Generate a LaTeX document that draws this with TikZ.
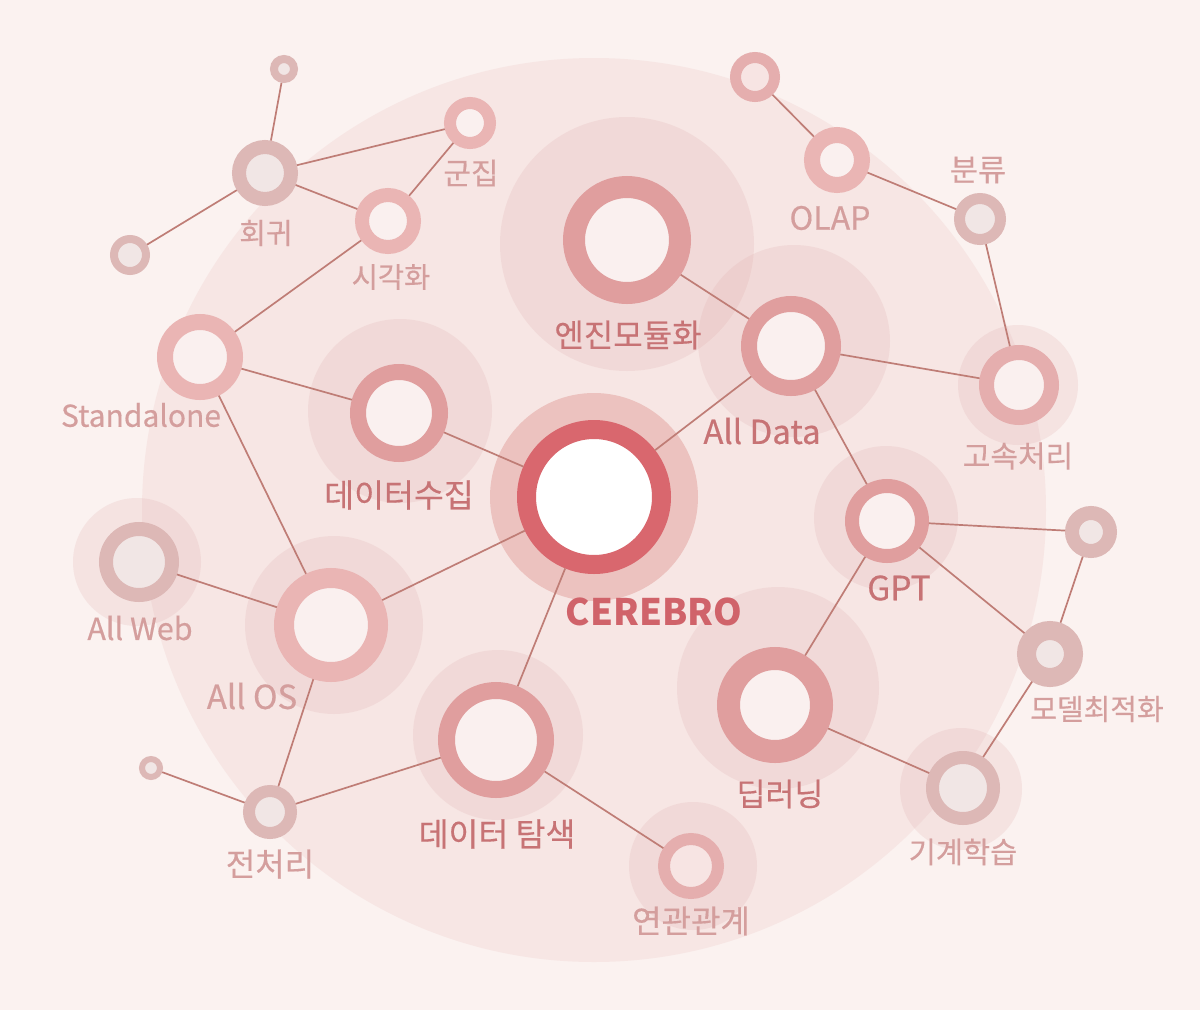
\documentclass[tikz,border=0pt]{standalone}
\usepackage{fontspec}
\setmainfont{Noto Sans CJK KR}
\newfontfamily\labfont[FakeBold=0.4]{Noto Sans CJK KR}
\definecolor{bgc}{HTML}{FBF2F0}
\definecolor{bigc}{HTML}{F7E6E4}
\definecolor{haloc}{HTML}{DDA9A8}
\definecolor{cerhalo}{HTML}{ECC2BF}
\definecolor{cerring}{HTML}{D9676E}
\definecolor{mainring}{HTML}{E09E9E}
\definecolor{lightring}{HTML}{EAB5B4}
\definecolor{midring}{HTML}{E5AEAE}
\definecolor{grayring}{HTML}{DDB8B6}
\definecolor{lightfill}{HTML}{FAF0EF}
\definecolor{grayfill}{HTML}{F1E6E5}
\definecolor{pinkfill}{HTML}{F7E4E3}
\definecolor{edgec}{HTML}{BF7D76}
\definecolor{darklab}{HTML}{C77375}
\definecolor{lightlab}{HTML}{D49E9D}
\definecolor{cerlab}{HTML}{D0636A}
\tikzset{
  ringnode/.style n args={4}{circle, inner sep=0pt, minimum size={#1+#2}, line width={#1-#2}, draw=#3, fill=#4},
  halo/.style={fill=haloc, fill opacity=0.2, draw=none},
  link/.style={draw=edgec, line width=1.7pt},
  mainlab/.style={text=darklab, font=\labfont\fontsize{#1}{#1}\selectfont, inner sep=0pt},
  sublab/.style={text=lightlab, font=\labfont\fontsize{#1}{#1}\selectfont, inner sep=0pt},
}
\begin{document}
\begin{tikzpicture}[x=1pt,y=-1pt]
\useasboundingbox (0,0) rectangle (1200,1010);
\fill[bgc] (0,0) rectangle (1200,1010);
\fill[bigc] (594,510) circle[radius=452];
% halos
\fill[halo] (627,244) circle[radius=127];
\fill[halo] (794,341) circle[radius=96];
\fill[halo] (400,411) circle[radius=92];
\fill[halo] (1018,385) circle[radius=60];
\fill[halo] (886,518) circle[radius=72];
\fill[halo] (778,688) circle[radius=101];
\fill[halo] (961,789) circle[radius=61];
\fill[halo] (693,866) circle[radius=64];
\fill[halo] (498,735) circle[radius=85];
\fill[halo] (334,625) circle[radius=89];
\fill[halo] (137,562) circle[radius=64];
\fill[cerhalo] (594,497) circle[radius=104];
% nodes
\node[ringnode={77}{58}{cerring}{white}] (cer) at (594,497) {};
\node[ringnode={64}{42}{mainring}{lightfill}] (eng) at (627,240) {};
\node[ringnode={50}{34}{mainring}{lightfill}] (dat) at (791,346) {};
\node[ringnode={49}{33}{mainring}{lightfill}] (col) at (399,413) {};
\node[ringnode={43}{27}{lightring}{lightfill}] (sta) at (200,357) {};
\node[ringnode={33}{19}{grayring}{grayfill}] (reg) at (265,173) {};
\node[ringnode={14}{6}{grayring}{grayfill}] (ta) at (284,69) {};
\node[ringnode={20}{12}{grayring}{grayfill}] (tb) at (130,255) {};
\node[ringnode={26}{14}{lightring}{lightfill}] (clu) at (470,123) {};
\node[ringnode={33}{19}{lightring}{lightfill}] (vis) at (388,221) {};
\node[ringnode={33}{17}{lightring}{lightfill}] (olap) at (837,160) {};
\node[ringnode={25}{14}{midring}{pinkfill}] (tc) at (755,77) {};
\node[ringnode={26}{15}{grayring}{grayfill}] (cls) at (980,219) {};
\node[ringnode={40}{25}{midring}{lightfill}] (fast) at (1019,385) {};
\node[ringnode={42}{28}{mainring}{lightfill}] (gpt) at (887,521) {};
\node[ringnode={26}{12}{grayring}{grayfill}] (td) at (1091,532) {};
\node[ringnode={33}{14}{grayring}{grayfill}] (opt) at (1050,654) {};
\node[ringnode={58}{35}{mainring}{lightfill}] (deep) at (775,705) {};
\node[ringnode={37}{24}{grayring}{grayfill}] (ml) at (963,788) {};
\node[ringnode={33}{21}{midring}{pinkfill}] (assoc) at (691,866) {};
\node[ringnode={58}{41}{mainring}{lightfill}] (exp) at (496,740) {};
\node[ringnode={57}{37}{lightring}{lightfill}] (os) at (331,625) {};
\node[ringnode={40}{26}{grayring}{grayfill}] (web) at (139,562) {};
\node[ringnode={27}{15}{grayring}{grayfill}] (pre) at (270,812) {};
\node[ringnode={12}{6}{grayring}{grayfill}] (te) at (151,768) {};
% edges
\path[link] (cer) -- (col);
\path[link] (cer) -- (dat);
\path[link] (cer) -- (os);
\path[link] (cer) -- (exp);
\path[link] (eng) -- (dat);
\path[link] (dat) -- (fast);
\path[link] (dat) -- (gpt);
\path[link] (gpt) -- (td);
\path[link] (gpt) -- (opt);
\path[link] (gpt) -- (deep);
\path[link] (td) -- (opt);
\path[link] (opt) -- (ml);
\path[link] (deep) -- (ml);
\path[link] (fast) -- (cls);
\path[link] (cls) -- (olap);
\path[link] (olap) -- (tc);
\path[link] (exp) -- (assoc);
\path[link] (exp) -- (pre);
\path[link] (pre) -- (te);
\path[link] (pre) -- (os);
\path[link] (os) -- (web);
\path[link] (os) -- (sta);
\path[link] (sta) -- (col);
\path[link] (sta) -- (vis);
\path[link] (vis) -- (clu);
\path[link] (vis) -- (reg);
\path[link] (reg) -- (clu);
\path[link] (reg) -- (ta);
\path[link] (reg) -- (tb);
% labels
\node[text=cerlab, font=\fontsize{36.5}{38}\selectfont\bfseries, inner sep=0pt] (lcer) at (654,612) {CEREBRO};
\node[mainlab=32] (leng) at (628,335) {엔진모듈화};
\node[mainlab=32.5] (lcol) at (399,495) {데이터수집};
\node[mainlab=33] (ldat) at (762,431) {All Data};
\node[mainlab=32.5] (lexp) at (497,834) {데이터 탐색};
\node[mainlab=31.5] (ldeep) at (780,794) {딥러닝};
\node[mainlab=33.5] (lgpt) at (899,588) {GPT};
\node[sublab=29] (lreg) at (266,233) {회귀};
\node[sublab=28.5] (lvis) at (391,277) {시각화};
\node[sublab=30] (lclu) at (471,173) {군집};
\node[sublab=32] (lolap) at (830,218) {OLAP};
\node[sublab=30.5] (lcls) at (978,170) {분류};
\node[sublab=30] (lfast) at (1018,456) {고속처리};
\node[sublab=30] (lsta) at (141,415) {Standalone};
\node[sublab=30.5] (lweb) at (140,628) {All Web};
\node[sublab=33] (los) at (252,696) {All OS};
\node[sublab=29] (lopt) at (1097,709) {모델최적화};
\node[sublab=29.5] (lml) at (963,852) {기계학습};
\node[sublab=32] (lassoc) at (691,921) {연관관계};
\node[sublab=32] (lpre) at (270,864) {전처리};
\end{tikzpicture}
\end{document}
